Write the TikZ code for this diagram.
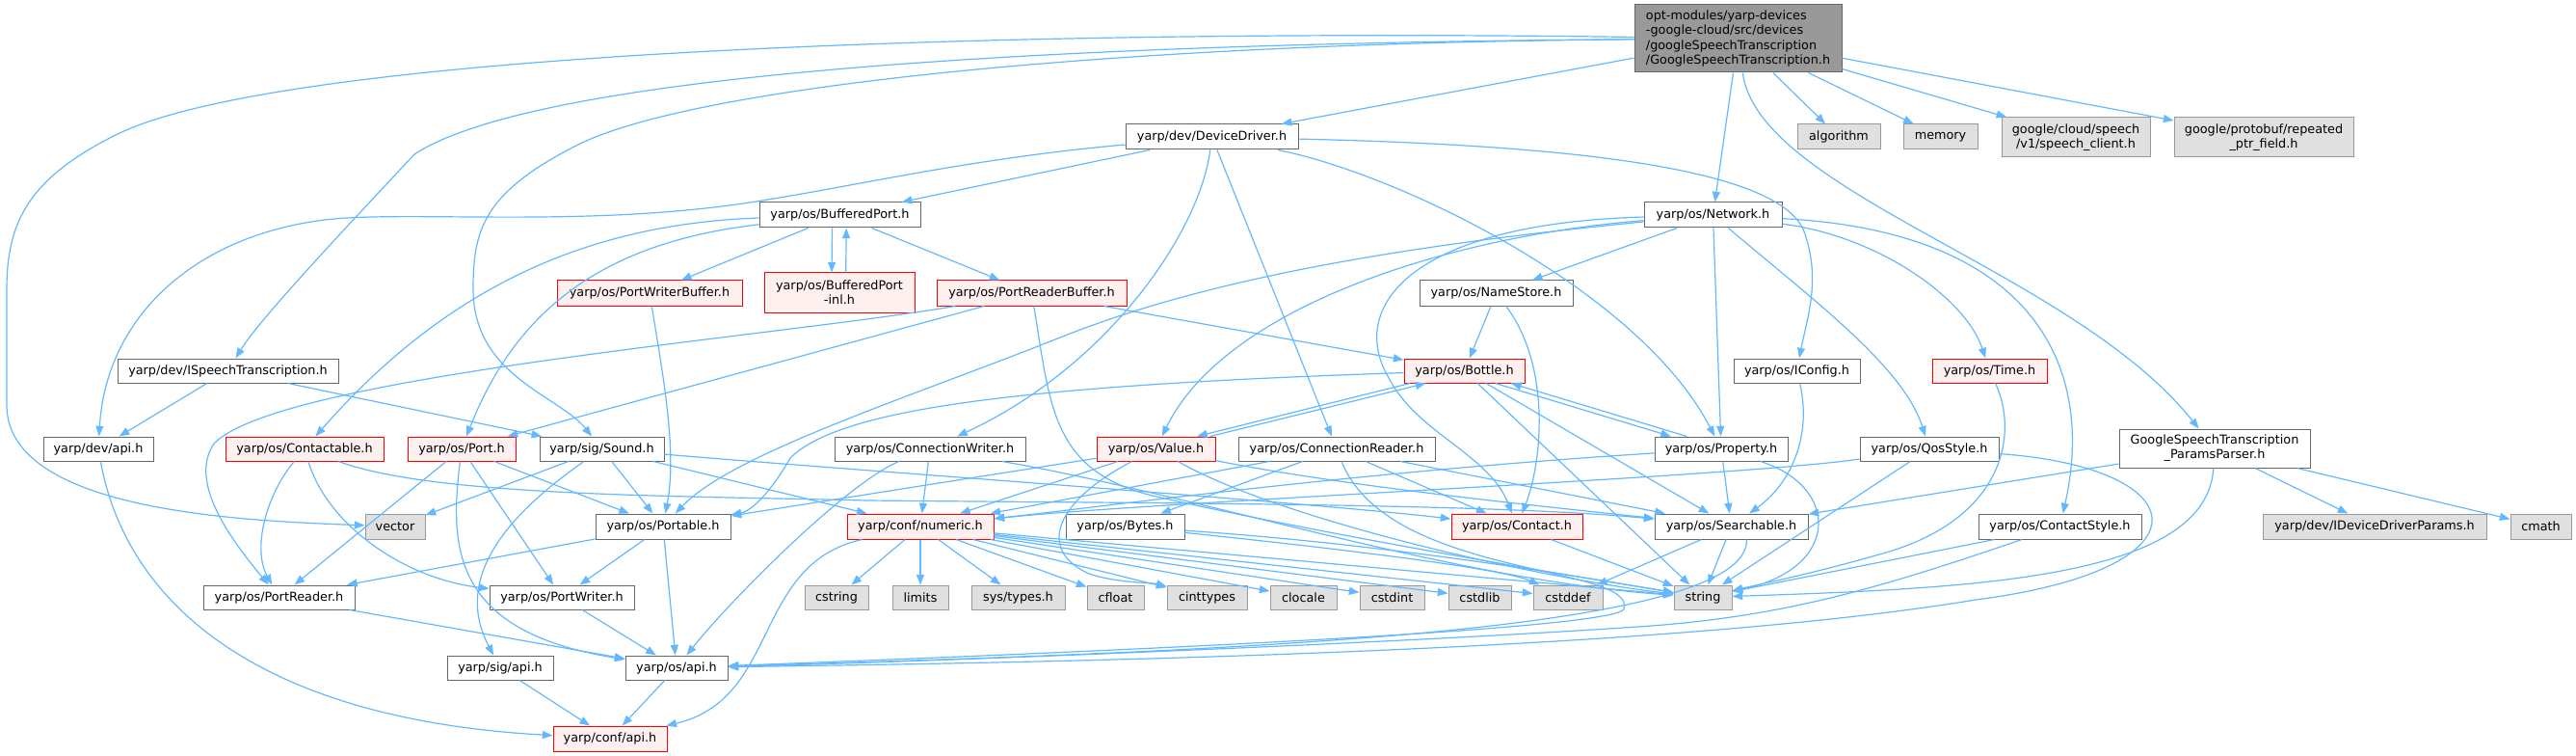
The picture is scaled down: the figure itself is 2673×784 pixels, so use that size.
\documentclass[tikz,border=0pt]{standalone}
\usepackage{fontspec}
\setmainfont{DejaVu Sans}
\usetikzlibrary{arrows.meta}
\definecolor{edgeblue}{HTML}{63B8FF}
\definecolor{cSix}{HTML}{666666}
\definecolor{cNine}{HTML}{999999}
\definecolor{cRedFill}{HTML}{FFF0F0}
\definecolor{cExt}{HTML}{E0E0E0}
\begin{document}
\begin{tikzpicture}[x=0.75pt,y=-0.75pt,
  base/.style={draw, line width=0.75pt, inner sep=0pt, font=\fontsize{9.6}{11.3}\selectfont, align=center, text=black},
  nb/.style={base, draw=cSix, fill=white},
  nr/.style={base, draw=red, fill=cRedFill},
  ng/.style={base, draw=cNine, fill=cExt},
  nroot/.style={base, draw=cSix, fill=cNine, align=left},
  sz/.style 2 args={minimum width=#1*0.75pt, minimum height=#2*0.75pt},
  e/.style={draw=edgeblue, line width=0.9pt, -{Triangle[length=8pt,width=6pt]}}]
\useasboundingbox (0,0) rectangle (2673,784);
% ---------------- nodes ----------------
\node[nroot, sz={215}{70}] (root) at (1803.5,40) {opt-modules/yarp-devices\\-google-cloud/src/devices\\/googleSpeechTranscription\\/GoogleSpeechTranscription.h};
\node[ng, sz={86}{26}] (algorithm) at (1908,142) {algorithm};
\node[ng, sz={77}{26}] (memory) at (2013.5,142) {memory};
\node[ng, sz={154}{41}] (speechclient) at (2154,142.5) {google/cloud/speech\\/v1/speech\_client.h};
\node[ng, sz={186}{41}] (repeated) at (2349,142.5) {google/protobuf/repeated\\\_ptr\_field.h};
\node[nb, sz={179}{26}] (DD) at (1257.5,142) {yarp/dev/DeviceDriver.h};
\node[nb, sz={143}{26}] (Network) at (1777.5,223) {yarp/os/Network.h};
\node[nb, sz={167}{26}] (BP) at (871.5,223) {yarp/os/BufferedPort.h};
\node[nr, sz={192}{26}] (PWB) at (674,304) {yarp/os/PortWriterBuffer.h};
\node[nr, sz={156}{41}] (inl) at (871,303.5) {yarp/os/BufferedPort\\-inl.h};
\node[nr, sz={197}{26}] (PRB) at (1070.5,304) {yarp/os/PortReaderBuffer.h};
\node[nb, sz={159}{26}] (NameStore) at (1552.5,304) {yarp/os/NameStore.h};
\node[nb, sz={229}{25}] (ISpeech) at (236.5,384.5) {yarp/dev/ISpeechTranscription.h};
\node[nr, sz={125}{25}] (Bottle) at (1519.5,384.5) {yarp/os/Bottle.h};
\node[nb, sz={131}{25}] (IConfig) at (1864.5,384.5) {yarp/os/IConfig.h};
\node[nr, sz={119}{25}] (Time) at (2064.5,384.5) {yarp/os/Time.h};
\node[nb, sz={114}{25}] (devapi) at (102,465.5) {yarp/dev/api.h};
\node[nr, sz={164}{25}] (Contactable) at (316,465.5) {yarp/os/Contactable.h};
\node[nr, sz={112}{25}] (Port) at (479,465.5) {yarp/os/Port.h};
\node[nb, sz={129}{25}] (Sound) at (624.5,465.5) {yarp/sig/Sound.h};
\node[nb, sz={198}{25}] (CW) at (965,465.5) {yarp/os/ConnectionWriter.h};
\node[nr, sz={123}{25}] (Value) at (1199.5,465.5) {yarp/os/Value.h};
\node[nb, sz={204}{25}] (CR) at (1387,465.5) {yarp/os/ConnectionReader.h};
\node[nb, sz={138}{25}] (Property) at (1786,465.5) {yarp/os/Property.h};
\node[nb, sz={144}{25}] (QosStyle) at (2002,465.5) {yarp/os/QosStyle.h};
\node[nb, sz={198}{40}] (Params) at (2298,465) {GoogleSpeechTranscription\\\_ParamsParser.h};
\node[ng, sz={62}{26}] (vector) at (410,546) {vector};
\node[nb, sz={140}{26}] (Portable) at (688,546) {yarp/os/Portable.h};
\node[nr, sz={152}{26}] (numeric) at (955,546) {yarp/conf/numeric.h};
\node[nb, sz={123}{26}] (Bytes) at (1167.5,546) {yarp/os/Bytes.h};
\node[nr, sz={136}{26}] (Contact) at (1574,546) {yarp/os/Contact.h};
\node[nb, sz={159}{26}] (Searchable) at (1796.5,546) {yarp/os/Searchable.h};
\node[nb, sz={169}{26}] (ContactStyle) at (2137.5,546) {yarp/os/ContactStyle.h};
\node[ng, sz={232}{26}] (IDDP) at (2464,546) {yarp/dev/IDeviceDriverParams.h};
\node[ng, sz={63}{26}] (cmath) at (2636.5,546) {cmath};
\node[nb, sz={157}{25}] (PortReader) at (289.5,619.5) {yarp/os/PortReader.h};
\node[nb, sz={150}{25}] (PortWriter) at (583,619.5) {yarp/os/PortWriter.h};
\node[ng, sz={66}{25}] (cstring) at (868,619.5) {cstring};
\node[ng, sz={58}{25}] (limits) at (955,619.5) {limits};
\node[ng, sz={97}{25}] (systypes) at (1056.5,619.5) {sys/types.h};
\node[ng, sz={59}{25}] (cfloat) at (1157.5,619.5) {cfloat};
\node[ng, sz={83}{25}] (cinttypes) at (1252.5,619.5) {cinttypes};
\node[ng, sz={69}{25}] (clocale) at (1352.5,619.5) {clocale};
\node[ng, sz={67}{25}] (cstdint) at (1444.5,619.5) {cstdint};
\node[ng, sz={65}{25}] (cstdlib) at (1535.5,619.5) {cstdlib};
\node[ng, sz={72}{25}] (cstddef) at (1627,619.5) {cstddef};
\node[ng, sz={60}{25}] (string) at (1767,619.5) {string};
\node[nb, sz={110}{25}] (sigapi) at (519,692.5) {yarp/sig/api.h};
\node[nb, sz={106}{25}] (osapi) at (702,692.5) {yarp/os/api.h};
\node[nr, sz={118}{26}] (confapi) at (633,766) {yarp/conf/api.h};
% ---------------- edges ----------------
% root
\draw[e] (root) -- (algorithm);
\draw[e] (root) -- (memory);
\draw[e] (root) -- (speechclient);
\draw[e] (root) -- (repeated);
\draw[e] (root) -- (DD);
\draw[e] (root) -- (Network);
\draw[e] (root) .. controls (1825,200) and (2150,280) .. (Params);
\draw[e] (root) .. controls (1100,45) and (560,75) .. (430,160) .. controls (360,235) and (270,330) .. (ISpeech);
\draw[e] (root) .. controls (1150,45) and (720,90) .. (600,150) .. controls (500,200) and (491,240) .. (491,300) .. controls (491,390) and (580,410) .. (Sound);
\draw[e] (root) .. controls (1100,30) and (300,50) .. (120,140) .. controls (30,185) and (7,230) .. (7,300) -- (7,420) .. controls (7,530) and (250,540) .. (vector);
% DeviceDriver
\draw[e] (DD) -- (BP);
\draw[e] (DD) .. controls (1000,165) and (880,195) .. (771,211) .. controls (600,236) and (420,218) .. (337,228) .. controls (200,245) and (110,330) .. (devapi);
\draw[e] (DD) .. controls (1245,240) and (1150,380) .. (CW);
\draw[e] (DD) -- (CR);
\draw[e] (DD) .. controls (1450,180) and (1700,300) .. (Property);
\draw[e] (DD) .. controls (1600,150) and (1845,170) .. (1872,240) .. controls (1890,290) and (1875,330) .. (IConfig);
% BufferedPort
\draw[e] (BP) -- (PWB);
\draw[e] ([xshift=-6pt]BP.south) -- ([xshift=-6pt]inl.north);
\draw[e] ([xshift=5pt]inl.north) -- ([xshift=5pt]BP.south);
\draw[e] (BP) -- (PRB);
\draw[e] (BP) .. controls (620,232) and (470,290) .. (Contactable);
\draw[e] (BP) .. controls (640,250) and (540,310) .. (Port);
\draw[e] (PWB) .. controls (690,400) and (702,470) .. (Portable);
% PortReaderBuffer
\draw[e] (PRB) .. controls (800,350) and (290,390) .. (222,460) .. controls (195,500) and (240,560) .. (PortReader);
\draw[e] (PRB) -- (Port);
\draw[e] (PRB) -- (Bottle);
\draw[e] (PRB) .. controls (1090,420) and (1090,490) .. (1200,515) .. controls (1400,560) and (1650,600) .. (string);
% ISpeech, dev api
\draw[e] (ISpeech) -- (devapi);
\draw[e] (ISpeech) -- (Sound);
\draw[e] (devapi) .. controls (130,620) and (260,745) .. (confapi);
% Contactable
\draw[e] (Contactable) .. controls (275,515) and (262,570) .. (PortReader);
\draw[e] (Contactable) .. controls (340,545) and (420,600) .. (PortWriter);
\draw[e] (Contactable) .. controls (450,515) and (700,514) .. (900,519) .. controls (1200,522) and (1550,522) .. (Searchable);
% Port
\draw[e] (Port) -- (PortReader);
\draw[e] (Port) -- (PortWriter);
\draw[e] (Port) .. controls (466,570) and (470,655) .. (osapi);
\draw[e] (Port) -- (Portable);
% Sound
\draw[e] (Sound) -- (vector);
\draw[e] (Sound) .. controls (525,535) and (470,600) .. (sigapi);
\draw[e] (Sound) -- (Portable);
\draw[e] (Sound) -- (numeric);
\draw[e] (Sound) .. controls (850,485) and (1350,520) .. (Contact);
% ConnectionWriter
\draw[e] (CW) -- (numeric);
\draw[e] (CW) .. controls (880,500) and (760,620) .. (osapi);
\draw[e] (CW) .. controls (1250,515) and (1500,600) .. (string);
% Value / Bottle
\draw[e] (Bottle.193) -- (Value.17);
\draw[e] (Value.13) -- (Bottle.198);
\draw[e] (Value) -- (Portable);
\draw[e] (Value) -- (numeric);
\draw[e] (Value) .. controls (1400,505) and (1600,525) .. (Searchable);
\draw[e] (Value) .. controls (1330,540) and (1600,600) .. (string);
\draw[e] (Value) .. controls (1095,520) and (1075,570) .. (1130,595) .. controls (1160,605) and (1195,604) .. (cinttypes);
% ConnectionReader
\draw[e] (CR) -- (numeric);
\draw[e] (CR) -- (Bytes);
\draw[e] (CR) -- (Contact);
\draw[e] (CR) -- (Searchable);
\draw[e] (CR) .. controls (1440,600) and (1700,585) .. (1685,632) .. controls (1670,650) and (1300,670) .. (osapi);
% Bottle / Property
\draw[e] (Bottle.-22) -- (Property.166);
\draw[e] (Property.160) -- (Bottle.-15);
\draw[e] (Bottle.-30) -- (Searchable);
\draw[e] (Bottle) -- (string);
\draw[e] (Bottle) .. controls (1050,400) and (870,425) .. (820,475) .. controls (800,510) and (780,530) .. (Portable);
\draw[e] (Property) .. controls (1400,490) and (1150,525) .. (numeric);
\draw[e] (Property) -- (Searchable);
\draw[e] (Property) .. controls (1910,505) and (1910,590) .. (string);
% NameStore
\draw[e] (NameStore) -- (Bottle);
\draw[e] (NameStore) .. controls (1610,380) and (1600,480) .. (Contact);
% Network
\draw[e] (Network) -- (NameStore);
\draw[e] (Network) -- (Property);
\draw[e] (Network) .. controls (1880,310) and (1975,380) .. (QosStyle);
\draw[e] (Network) .. controls (1950,245) and (2040,310) .. (Time);
\draw[e] (Network) .. controls (2110,240) and (2175,380) .. (ContactStyle);
\draw[e] (Network) .. controls (1500,245) and (1270,320) .. (Value);
\draw[e] (Network) .. controls (1460,232) and (1400,320) .. (1440,390) .. controls (1470,450) and (1545,470) .. (Contact);
\draw[e] (Network) .. controls (1450,255) and (1250,290) .. (1100,350) .. controls (950,410) and (760,470) .. (Portable);
% IConfig, Time
\draw[e] (IConfig) .. controls (1880,450) and (1860,500) .. (Searchable);
\draw[e] (Time) .. controls (2095,450) and (2080,540) .. (1950,575) .. controls (1880,595) and (1830,605) .. (string);
% QosStyle, ContactStyle, Params
\draw[e] (QosStyle) -- (string);
\draw[e] (QosStyle) .. controls (1800,495) and (1200,520) .. (numeric);
\draw[e] (QosStyle) .. controls (2280,485) and (2300,590) .. (2050,622) .. controls (1700,680) and (1000,688) .. (osapi);
\draw[e] (ContactStyle) -- (string);
\draw[e] (ContactStyle) .. controls (1950,610) and (1850,640) .. (1700,650) .. controls (1400,670) and (900,688) .. (osapi);
\draw[e] (Params) -- (Searchable);
\draw[e] (Params) -- (IDDP);
\draw[e] (Params) -- (cmath);
\draw[e] (Params) .. controls (2290,600) and (2050,610) .. (string);
% Searchable, Contact, Bytes
\draw[e] (Searchable) -- (cstddef);
\draw[e] (Searchable) -- (string);
\draw[e] ([xshift=12pt]Searchable.south) .. controls (1815,655) and (1300,675) .. (osapi);
\draw[e] (Contact) -- (string);
\draw[e] (Bytes) .. controls (1400,570) and (1560,590) .. (cstddef);
\draw[e] (Bytes) .. controls (1450,565) and (1650,600) .. (string);
% numeric
\draw[e] (numeric) -- (cstring);
\draw[e] (numeric) -- (limits);
\draw[e] (numeric) -- (systypes);
\draw[e] (numeric) -- (cfloat);
\draw[e] (numeric) -- (cinttypes);
\draw[e] (numeric) -- (clocale);
\draw[e] (numeric) -- (cstdint);
\draw[e] (numeric) -- (cstdlib);
\draw[e] (numeric) -- (cstddef);
\draw[e] (numeric) -- (string);
\draw[e] (numeric) .. controls (780,585) and (810,725) .. (confapi);
% bottom
\draw[e] (Portable) -- (PortReader);
\draw[e] (Portable) -- (PortWriter);
\draw[e] (Portable) -- (osapi);
\draw[e] (PortReader) -- (osapi);
\draw[e] (PortWriter) -- (osapi);
\draw[e] (sigapi) -- (confapi);
\draw[e] (osapi) -- (confapi);
\end{tikzpicture}
\end{document}
